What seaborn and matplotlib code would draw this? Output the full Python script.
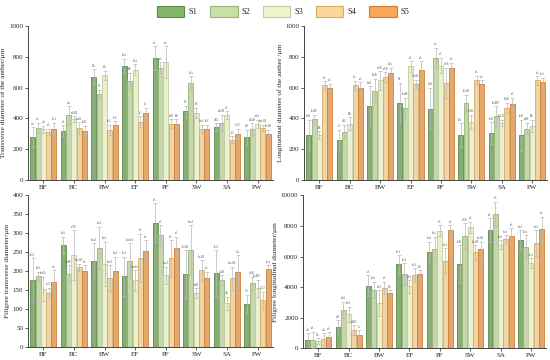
import pandas as pd
import matplotlib.pyplot as plt
import seaborn as sns
from matplotlib.patches import Patch

# Datos
sites = ['BF', 'BC', 'BW', 'EF', 'PF', 'SW', 'SA', 'PW']
stages = ['S1', 'S2', 'S3', 'S4', 'S5']

# Transverse diameter of the anther (filas = S1..S5)
anther_trans = [
  [278, 320, 670, 741, 791, 446, 343, 278],
  [337, 422, 559, 643, 730, 630, 370, 330],
  [330, 396, 680, 717, 765, 435, 422, 363],
  [311, 337, 324, 378, 365, 330, 261, 337],
  [330, 320, 357, 435, 365, 330, 298, 300],
]
anther_trans_err = [
  [65, 35, 48, 46, 78, 37, 26, 48],
  [33, 56, 28, 52, 35, 43, 54, 39],
  [22, 17, 30, 33, 104, 33, 24, 28],
  [20, 37, 35, 35, 30, 28, 22, 22],
  [43, 33, 24, 33, 30, 28, 33, 26],
]
anther_trans_sig = [
  ['dA', 'cA', 'bA', 'abA', 'aA', 'cB', 'dBC', 'dB'],
  ['cA', 'dA', 'cB', 'bB', 'aA', 'bcA', 'dcAB', 'cdAB'],
  ['dA', 'cdAB', 'bA', 'abA', 'aA', 'cB', 'cA', 'cdA'],
  ['cA', 'abcB', 'bcC', 'aC', 'abB', 'abcC', 'aD', 'abcAB'],
  ['bcA', 'bcB', 'bcC', 'aC', 'bB', 'bcC', 'cCD', 'bcAB'],
]

# Longitudinal diameter of the anther
anther_long = [
  [293, 261, 478, 500, 463, 293, 304, 291],
  [396, 311, 580, 465, 793, 502, 415, 333],
  [291, 365, 646, 737, 743, 376, 370, 350],
  [617, 615, 667, 624, 630, 650, 467, 646],
  [596, 600, 696, 713, 730, 626, 496, 633],
]
anther_long_err = [
  [98, 65, 130, 130, 135, 76, 70, 100],
  [28, 48, 76, 67, 65, 52, 63, 37],
  [24, 43, 61, 35, 50, 48, 22, 41],
  [24, 30, 33, 28, 98, 28, 33, 28],
  [28, 35, 33, 59, 30, 22, 37, 30],
]
anther_long_sig = [
  ['bcB', 'cC', 'abB', 'aB', 'abB', 'bcC', 'bcB', 'bcB'],
  ['bcdB', 'dBC', 'bAB', 'bcdB', 'aA', 'bcAB', 'bcdBC', 'cdB'],
  ['bB', 'bB', 'aAB', 'aA', 'aA', 'bcBC', 'bcCD', 'bB'],
  ['aA', 'aA', 'aAB', 'abAB', 'aAB', 'aA', 'bAB', 'aA'],
  ['cA', 'cA', 'abA', 'aA', 'aA', 'cA', 'aA', 'bcA'],
]

# Filigree transverse diameter
fil_trans = [
  [177, 269, 228, 187, 327, 192, 195, 114],
  [187, 194, 262, 228, 294, 255, 177, 169],
  [153, 242, 219, 176, 189, 142, 116, 155],
  [144, 210, 182, 236, 234, 202, 182, 124],
  [171, 200, 200, 252, 262, 182, 199, 206],
]
fil_trans_err = [
  [57, 22, 45, 51, 51, 63, 60, 24],
  [12, 22, 55, 45, 27, 66, 13, 17],
  [32, 66, 59, 27, 23, 13, 17, 22],
  [13, 10, 34, 63, 48, 27, 30, 22],
  [32, 16, 38, 30, 29, 17, 43, 10],
]
fil_trans_sig = [
  ['bcA', 'abA', 'abcA', 'bcA', 'aA', 'bcAB', 'bcA', 'cD'],
  ['cdA', 'bcdB', 'abA', 'abcdA', 'aA', 'abcA', 'dAB', 'dAB'],
  ['bcdA', 'aAB', 'abA', 'abcdA', 'abcA', 'cdB', 'dB', 'bcdBC'],
  ['bcA', 'abcAB', 'abcA', 'aA', 'aA', 'abAB', 'abcAB', 'cCD'],
  ['cA', 'cA', 'abA', 'aA', 'aA', 'cA', 'dA', 'bcA'],
]

# Filigree longitudinal diameter
fil_long = [
  [545, 1394, 4096, 5490, 6296, 5512, 7712, 7081],
  [545, 2505, 3834, 4858, 6470, 7364, 8780, 6623],
  [458, 2222, 2963, 4052, 7690, 7908, 6776, 5577],
  [610, 1198, 3943, 4793, 5730, 6275, 7146, 6884],
  [719, 871, 3595, 4858, 7712, 6492, 7364, 7778],
]
fil_long_err = [
  [436, 458, 697, 610, 675, 1242, 784, 653],
  [545, 545, 523, 697, 828, 806, 806, 784],
  [196, 500, 850, 414, 370, 370, 305, 305],
  [370, 327, 414, 436, 806, 479, 261, 850],
  [327, 327, 218, 261, 348, 479, 479, 828],
]
fil_long_sig = [
  ['dA', 'dB', 'cA', 'bcA', 'abA', 'bcB', 'aA', 'abA'],
  ['aA', 'deA', 'cdA', 'bcA', 'abA', 'aAB', 'aA', 'abA'],
  ['bA', 'cdA', 'deA', 'cdA', 'aA', 'aA', 'abA', 'bcA'],
  ['dA', 'cdBC', 'cA', 'bcA', 'abA', 'abAB', 'abA', 'abA'],
  ['cA', 'cC', 'bA', 'bA', 'aA', 'abAB', 'aA', 'aA'],
]

colors = ['#84b56c', '#c7e0a3', '#eef5cb', '#fdd797', '#f8a75b']
edges = ['#5d8a48', '#97b476', '#c2cc9c', '#d4ab67', '#cf7f35']

sns.set_style("ticks")
plt.rcParams['font.family'] = ['Liberation Serif', 'DejaVu Serif']


def draw_panel(ax, values, errs, sigs, ylabel, ymax, step):
  rows = []
  for i, st in enumerate(stages):
    for j, site in enumerate(sites):
      rows.append({'site': site, 'stage': st, 'value': values[i][j]})
  df = pd.DataFrame(rows)
  sns.barplot(data=df, x='site', y='value', hue='stage', order=sites,
              hue_order=stages, palette=colors, errorbar=None, width=0.87,
              gap=0.06, linewidth=0.6, legend=False, ax=ax)
  off = ymax * 0.01
  bar_groups = list(ax.containers)
  for i, cont in enumerate(bar_groups):
    for j, bar in enumerate(cont.patches):
      bar.set_edgecolor(edges[i])
      x = bar.get_x() + bar.get_width() / 2
      h = bar.get_height()
      ax.errorbar(x, h, yerr=errs[i][j], fmt='none', ecolor='#b8b8b8',
                  elinewidth=0.5, capsize=1.2, capthick=0.5, zorder=3)
      ax.text(x, h + errs[i][j] + off, sigs[i][j], ha='center', va='bottom',
              fontsize=2.2, color='#555555')
  ax.set_ylim(0, ymax)
  ax.set_xlim(-0.5, 7.5)
  ax.set_yticks(range(0, ymax + 1, step))
  ax.set_xlabel('')
  ax.set_ylabel(ylabel, fontsize=5.2, labelpad=2)
  ax.tick_params(axis='both', labelsize=5, length=2, width=0.6, pad=1.5,
                 color='#444444')
  sns.despine(ax=ax)
  for s in ['left', 'bottom']:
    ax.spines[s].set_linewidth(0.7)
    ax.spines[s].set_color('#444444')


fig = plt.figure(figsize=(5.5, 3.6), dpi=100)
ax1 = fig.add_axes([0.051, 0.5, 0.445, 0.428])
ax2 = fig.add_axes([0.553, 0.5, 0.442, 0.428])
ax3 = fig.add_axes([0.051, 0.035, 0.445, 0.423])
ax4 = fig.add_axes([0.551, 0.032, 0.442, 0.425])

draw_panel(ax1, anther_trans, anther_trans_err, anther_trans_sig,
           'Transverse diameter of the anther/μm', 1000, 200)
draw_panel(ax2, anther_long, anther_long_err, anther_long_sig,
           'Longitudinal diameter of the anther /μm', 1000, 200)
draw_panel(ax3, fil_trans, fil_trans_err, fil_trans_sig,
           'Filigree transverse diameter/μm', 400, 50)
draw_panel(ax4, fil_long, fil_long_err, fil_long_sig,
           'Filigree longitudinal diameter/μm', 10000, 2000)

handles = [Patch(facecolor=c, edgecolor=e, linewidth=0.8, label=s)
           for c, e, s in zip(colors, edges, stages)]
fig.legend(handles=handles, loc='upper center', bbox_to_anchor=(0.515, 1.005),
           ncol=5, frameon=False, fontsize=6, handlelength=3.3,
           handleheight=1.8, columnspacing=1.5, handletextpad=0.5)

plt.savefig('out.png', dpi=100)
